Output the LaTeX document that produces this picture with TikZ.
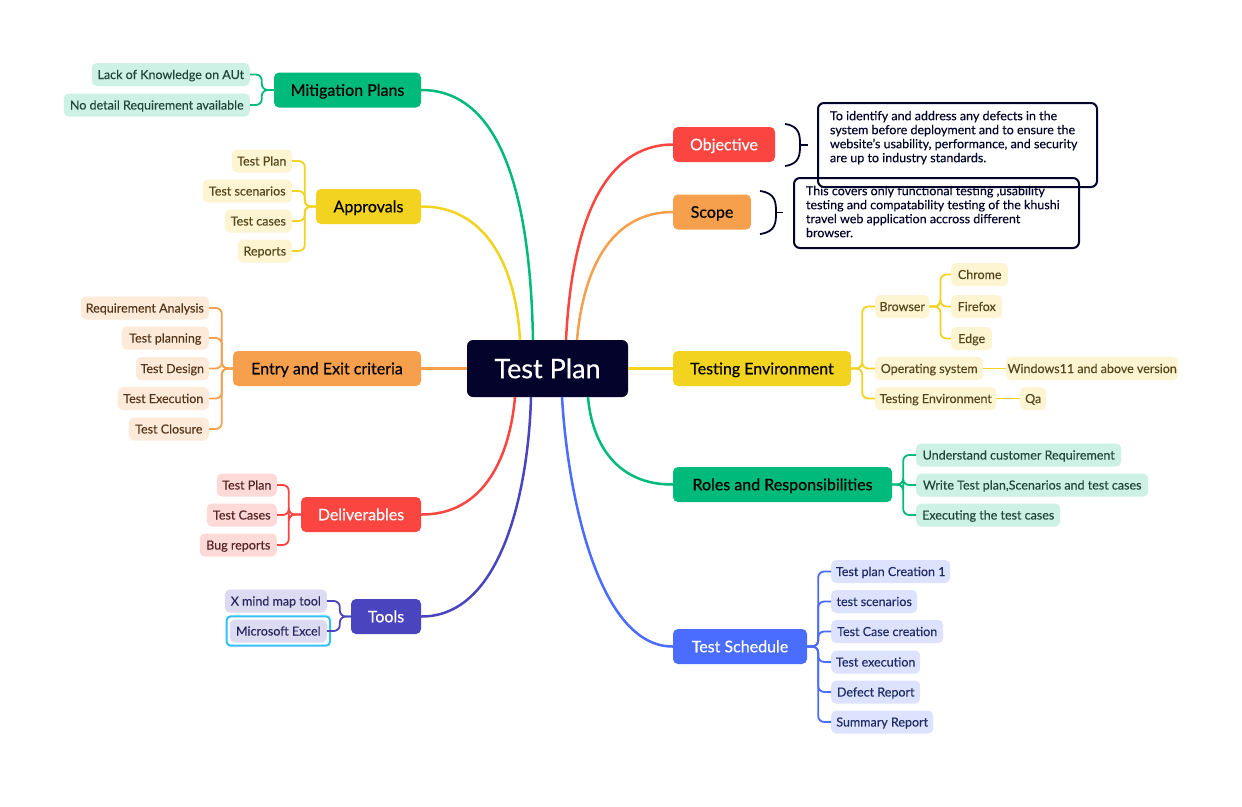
\documentclass[tikz,border=0pt]{standalone}
\usepackage{fontspec}
\setmainfont{Lato}[FakeBold=0.15]
\newfontfamily\medfont{Lato}[FakeBold=0.45]
\definecolor{navy}{HTML}{03032B}
\definecolor{cgreen}{HTML}{00BA7B}
\definecolor{lgreen}{HTML}{CDF1E5}
\definecolor{tgreen}{HTML}{24463A}
\definecolor{cyellow}{HTML}{F2D320}
\definecolor{lyellow}{HTML}{FDF4D1}
\definecolor{tyellow}{HTML}{55461C}
\definecolor{corange}{HTML}{F6A04D}
\definecolor{lorange}{HTML}{FDEAD8}
\definecolor{torange}{HTML}{55361C}
\definecolor{cred}{HTML}{FA4540}
\definecolor{lred}{HTML}{FDD9D7}
\definecolor{tred}{HTML}{552424}
\definecolor{cindigo}{HTML}{4A45BE}
\definecolor{lindigo}{HTML}{DCDBF2}
\definecolor{tindigo}{HTML}{2A2660}
\definecolor{cblue}{HTML}{4A6CFF}
\definecolor{lblue}{HTML}{DDE3FF}
\definecolor{tblue}{HTML}{1E2B66}
\definecolor{ccyan}{HTML}{33C0F5}
\tikzset{
  root/.style={fill=navy, text=white, rounded corners=6pt, minimum width=161pt, minimum height=57pt, inner sep=0pt, text height=20pt, text depth=0.6pt, font=\medfont\fontsize{27}{30}\selectfont},
  mainnode/.style={rounded corners=5pt, minimum height=35pt, inner sep=0pt, text height=12pt, text depth=0.5pt, font=\medfont\fontsize{16}{18}\selectfont},
  subnode/.style={rounded corners=5pt, minimum height=23pt, inner sep=0pt, text height=9.5pt, text depth=0.5pt, font=\fontsize{12.5}{14}\selectfont},
  mainlink/.style={line width=2.5pt},
  sublink/.style={line width=1.8pt, rounded corners=6pt},
  brace/.style={draw=navy, line width=1.8pt},
  notebox/.style={draw=navy, line width=2pt, rounded corners=6pt, anchor=north west, align=left, inner xsep=12pt, inner ysep=8pt, font=\fontsize{12.5}{14}\selectfont, text=navy}
}
\begin{document}
\begin{tikzpicture}[x=1pt, y=-1pt]
\useasboundingbox[fill=white] (0,0) rectangle (1242,806);

% central
\node[root] (tp) at (547.5,368.5) {Test Plan};
\coordinate (tpA) at (533,340);
\coordinate (tpB) at (520,340);
\coordinate (tpC) at (566,340);
\coordinate (tpD) at (577,340);
\coordinate (tpE) at (515,397);
\coordinate (tpF) at (531,397);
\coordinate (tpG) at (562,397);
\coordinate (tpH) at (588,397);

% main nodes
\node[mainnode, fill=cgreen, minimum width=147pt] (mit) at (347.5,90) {Mitigation Plans};
\node[mainnode, fill=cyellow, minimum width=105pt] (app) at (368.5,206.5) {Approvals};
\node[mainnode, fill=corange, minimum width=188pt] (ent) at (327,368.5) {Entry and Exit criteria};
\node[mainnode, fill=cred, text=white, minimum width=120pt] (del) at (361,514.5) {Deliverables};
\node[mainnode, fill=cindigo, text=white, minimum width=70pt] (tools) at (386,616.5) {Tools};
\node[mainnode, fill=cred, text=white, minimum width=102pt] (obj) at (724,144.5) {Objective};
\node[mainnode, fill=corange, minimum width=78pt] (scope) at (712,212) {Scope};
\node[mainnode, fill=cyellow, minimum width=178pt] (env) at (762,368.5) {Testing Environment};
\node[mainnode, fill=cgreen, minimum width=219pt] (roles) at (782.5,484.5) {Roles and Responsibilities};
\node[mainnode, fill=cblue, text=white, minimum width=134pt] (sched) at (740,646.5) {Test Schedule};

% main links
\draw[mainlink, cgreen] (mit.east) .. controls (495,90) and (530,180) .. (tpA);
\draw[mainlink, cyellow] (app.east) .. controls (485,206) and (516,265) .. (tpB);
\draw[mainlink, corange] (ent.east) -- (tp.west);
\draw[mainlink, cred] (del.east) .. controls (485,515) and (510,455) .. (tpE);
\draw[mainlink, cindigo] (tools.east) .. controls (505,617) and (529,480) .. (tpF);
\draw[mainlink, cred] (obj.west) .. controls (605,145) and (572,220) .. (tpC);
\draw[mainlink, corange] (scope.west) .. controls (615,212) and (584,262) .. (tpD);
\draw[mainlink, cyellow] (tp.east) -- (env.west);
\draw[mainlink, cgreen] (roles.west) .. controls (618,485) and (592,445) .. (tpH);
\draw[mainlink, cblue] (sched.west) .. controls (600,647) and (568,500) .. (tpG);

% Mitigation children
\node[subnode, fill=lgreen, text=tgreen, minimum width=158pt, anchor=east] (m1) at (250,74.5) {Lack of Knowledge on AUt};
\node[subnode, fill=lgreen, text=tgreen, minimum width=186pt, anchor=east] (m2) at (250,105) {No detail Requirement available};
\foreach \c in {m1,m2} \draw[sublink, cgreen] (mit.west) -- ++(-12,0) |- (\c.east);

% Approvals children
\node[subnode, fill=lyellow, text=tyellow, minimum width=60pt, anchor=east] (a1) at (292,161) {Test Plan};
\node[subnode, fill=lyellow, text=tyellow, minimum width=89pt, anchor=east] (a2) at (292,191) {Test scenarios};
\node[subnode, fill=lyellow, text=tyellow, minimum width=67pt, anchor=east] (a3) at (292,221) {Test cases};
\node[subnode, fill=lyellow, text=tyellow, minimum width=54pt, anchor=east] (a4) at (292,251) {Reports};
\foreach \c in {a1,a2,a3,a4} \draw[sublink, cyellow] (app.west) -- ++(-11,0) |- (\c.east);

% Entry children
\node[subnode, fill=lorange, text=torange, minimum width=128pt, anchor=east] (e1) at (209,308) {Requirement Analysis};
\node[subnode, fill=lorange, text=torange, minimum width=87pt, anchor=east] (e2) at (209,338) {Test planning};
\node[subnode, fill=lorange, text=torange, minimum width=73pt, anchor=east] (e3) at (209,368.5) {Test Design};
\node[subnode, fill=lorange, text=torange, minimum width=91pt, anchor=east] (e4) at (209,398.5) {Test Execution};
\node[subnode, fill=lorange, text=torange, minimum width=80pt, anchor=east] (e5) at (209,429) {Test Closure};
\foreach \c in {e1,e2,e3,e4,e5} \draw[sublink, corange] (ent.west) -- ++(-11,0) |- (\c.east);

% Deliverables children
\node[subnode, fill=lred, text=tred, minimum width=60pt, anchor=east] (d1) at (277,485) {Test Plan};
\node[subnode, fill=lred, text=tred, minimum width=70pt, anchor=east] (d2) at (277,515) {Test Cases};
\node[subnode, fill=lred, text=tred, minimum width=77pt, anchor=east] (d3) at (277,545) {Bug reports};
\foreach \c in {d1,d2,d3} \draw[sublink, cred] (del.west) -- ++(-12,0) |- (\c.east);

% Tools children
\node[subnode, fill=lindigo, text=tindigo, minimum width=102pt, anchor=east] (t1) at (327,601) {X mind map tool};
\node[subnode, fill=lindigo, text=tindigo, minimum width=97pt, anchor=east] (t2) at (327,631) {Microsoft Excel};
\draw[ccyan, line width=2pt, rounded corners=4pt] ([shift={(-3,-3)}]t2.north west) rectangle ([shift={(3,3)}]t2.south east);
\foreach \c in {t1,t2} \draw[sublink, cindigo] (tools.west) -- ++(-11,0) |- (\c.east);

% Objective and Scope notes
\draw[brace] (785,124) .. controls (800,126) and (800,136) .. (800,145) .. controls (800,154) and (800,164) .. (785,166);
\draw[brace] (800,145) -- (808,145);
\draw[brace] (760,191) .. controls (776,193) and (776,203) .. (776,212.5) .. controls (776,222) and (776,232) .. (760,234);
\draw[brace] (776,212.5) -- (783,212.5);
\node[notebox] (scopetxt) at (793,177) {\parbox[t][54pt][t]{261pt}{This covers only functional testing ,usability\\testing and compatability testing of the khushi\\travel web application accross different\\browser.}};
\node[notebox] (objtxt) at (817,102) {\parbox[t][68pt][t]{255pt}{To identify and address any defects in the\\system before deployment and to ensure the\\website's usability, performance, and security\\are up to industry standards.}};

% Testing environment children
\node[subnode, fill=lyellow, text=tyellow, minimum width=54pt, anchor=west] (b1) at (875,306.5) {Browser};
\node[subnode, fill=lyellow, text=tyellow, minimum width=108pt, anchor=west] (b2) at (875,368.5) {Operating system};
\node[subnode, fill=lyellow, text=tyellow, minimum width=121pt, anchor=west] (b3) at (875,398.5) {Testing Environment};
\foreach \c in {b1,b2,b3} \draw[sublink, cyellow] (env.east) -- ++(11,0) |- (\c.west);
\node[subnode, fill=lyellow, text=tyellow, minimum width=57pt, anchor=west] (c1) at (951,274.5) {Chrome};
\node[subnode, fill=lyellow, text=tyellow, minimum width=51pt, anchor=west] (c2) at (951,306.5) {Firefox};
\node[subnode, fill=lyellow, text=tyellow, minimum width=41pt, anchor=west] (c3) at (951,338.5) {Edge};
\foreach \c in {c1,c2,c3} \draw[sublink, cyellow] (b1.east) -- ++(11,0) |- (\c.west);
\node[subnode, fill=lyellow, text=tyellow, minimum width=172pt, anchor=west] (w1) at (1006,368.5) {Windows11 and above version};
\node[subnode, fill=lyellow, text=tyellow, minimum width=26pt, anchor=west] (q1) at (1020,398.5) {Qa};
\draw[sublink, cyellow] (b2.east) -- (w1.west);
\draw[sublink, cyellow] (b3.east) -- (q1.west);

% Roles children
\node[subnode, fill=lgreen, text=tgreen, minimum width=205pt, anchor=west] (r1) at (916,455) {Understand customer Requirement};
\node[subnode, fill=lgreen, text=tgreen, minimum width=232pt, anchor=west] (r2) at (916,485) {Write Test plan,Scenarios and test cases};
\node[subnode, fill=lgreen, text=tgreen, minimum width=144pt, anchor=west] (r3) at (916,515) {Executing the test cases};
\foreach \c in {r1,r2,r3} \draw[sublink, cgreen] (roles.east) -- ++(11,0) |- (\c.west);

% Schedule children
\node[subnode, fill=lblue, text=tblue, minimum width=119pt, anchor=west] (s1) at (831,571.5) {Test plan Creation 1};
\node[subnode, fill=lblue, text=tblue, minimum width=86pt, anchor=west] (s2) at (831,601.5) {test scenarios};
\node[subnode, fill=lblue, text=tblue, minimum width=112pt, anchor=west] (s3) at (831,631.5) {Test Case creation};
\node[subnode, fill=lblue, text=tblue, minimum width=89pt, anchor=west] (s4) at (831,662) {Test execution};
\node[subnode, fill=lblue, text=tblue, minimum width=89pt, anchor=west] (s5) at (831,692) {Defect Report};
\node[subnode, fill=lblue, text=tblue, minimum width=102pt, anchor=west] (s6) at (831,722) {Summary Report};
\foreach \c in {s1,s2,s3,s4,s5,s6} \draw[sublink, cblue] (sched.east) -- ++(11,0) |- (\c.west);
\end{tikzpicture}
\end{document}
